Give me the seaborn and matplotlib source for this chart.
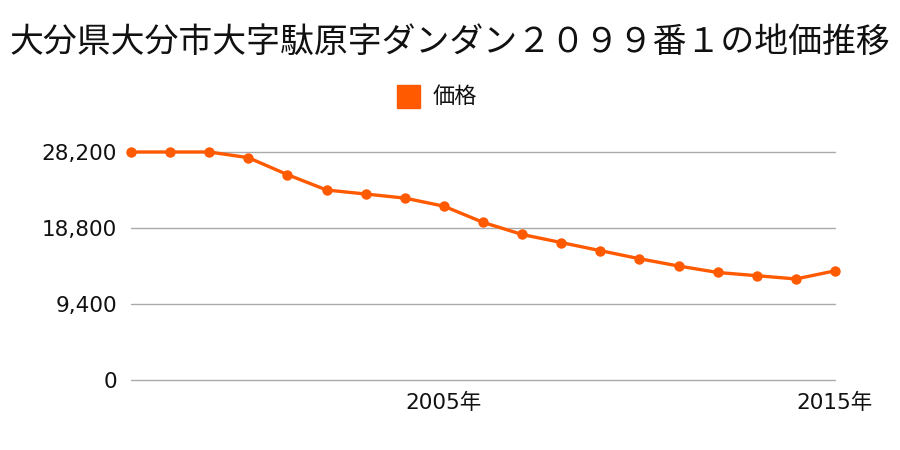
import matplotlib
matplotlib.use("Agg")
import matplotlib.pyplot as plt
import seaborn as sns
import pandas as pd

title = "大分県大分市大字駄原字ダンダン２０９９番１の地価推移"
series_name = "価格"
years = list(range(1997, 2016))
prices = [28200, 28200, 28200, 27500, 25400, 23500, 23000, 22500, 21500, 19500,
          18000, 17000, 16000, 15000, 14100, 13300, 12900, 12500, 13500]
y_ticks = [0, 9400, 18800, 28200]
x_ticks = [2005, 2015]
x_tick_labels = ["2005年", "2015年"]

sns.set_theme(style="white")
plt.rcParams['font.family'] = ['DejaVu Sans', 'Noto Sans CJK JP']

color = "#FF5A00"
df = pd.DataFrame({"year": years, "price": prices})

fig = plt.figure(figsize=(9, 4.5), dpi=100)
ax = fig.add_axes([131/900, 1-380/450, (835-131)/900, (380-152)/450])
for v in y_ticks:
    ax.axhline(v, color="#aaaaaa", linewidth=1, zorder=1, clip_on=False)
sns.lineplot(data=df, x="year", y="price", ax=ax, color=color, linewidth=2.4,
             marker="o", markersize=7.5, markeredgewidth=0, label=series_name,
             legend=False, clip_on=False, zorder=5)

ax.set_xlim(years[0], years[-1])
ax.set_ylim(0, 28200)
ax.set_yticks(y_ticks)
ax.set_yticklabels([f"{v:,}" for v in y_ticks], fontsize=15.5, color="#111111")
ax.set_xticks(x_ticks)
ax.set_xticklabels(x_tick_labels, fontsize=15.5, color="#111111")
ax.grid(False)
for s in ax.spines.values():
    s.set_visible(False)
ax.tick_params(axis="y", length=0, pad=10)
ax.tick_params(axis="x", length=0, pad=9)
ax.set_xlabel("")
ax.set_ylabel("")

fig.text(0.5, 1-42/450, title, ha="center", va="center", fontsize=24.4,
         color="#111111", family=['Noto Sans CJK JP', 'DejaVu Sans'])
fig.patches.append(plt.Rectangle((397/900, 1-108/450), 23/900, 23/450,
                                 transform=fig.transFigure, color=color, figure=fig))
fig.text(433/900, 1-96/450, series_name, ha="left", va="center", fontsize=16,
         color="#111111", family=['Noto Sans CJK JP', 'DejaVu Sans'])

fig.savefig("out.png", dpi=100)
